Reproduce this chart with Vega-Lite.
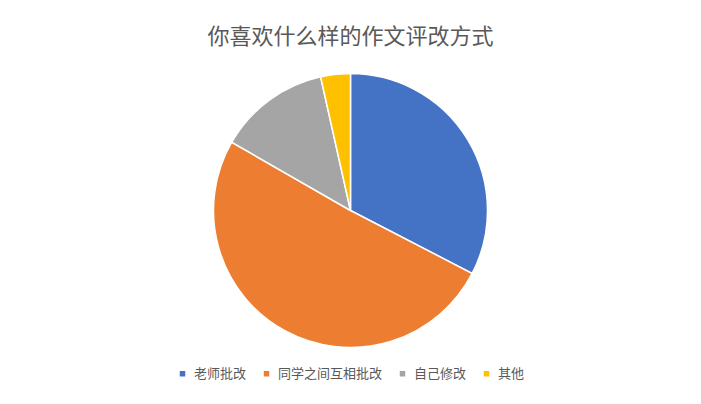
{
  "$schema": "https://vega.github.io/schema/vega-lite/v6.json",
  "width": 701,
  "height": 404,
  "autosize": {"type": "fit", "contains": "padding"},
  "padding": {"top": 27, "bottom": 23, "left": 5, "right": 5},
  "background": "white",
  "title": {
    "text": "你喜欢什么样的作文评改方式",
    "font": "Noto Sans CJK SC",
    "fontSize": 22,
    "fontWeight": "normal",
    "color": "#595959",
    "anchor": "middle",
    "offset": 22
  },
  "data": {
    "values": [
      {"方式": "老师批改", "比例": 32.6, "顺序": 1},
      {"方式": "同学之间互相批改", "比例": 50.7, "顺序": 2},
      {"方式": "自己修改", "比例": 13.2, "顺序": 3},
      {"方式": "其他", "比例": 3.5, "顺序": 4}
    ]
  },
  "mark": {"type": "arc", "radius": 137, "stroke": "white", "strokeWidth": 1.5},
  "encoding": {
    "theta": {"field": "比例", "type": "quantitative", "stack": true},
    "order": {"field": "顺序", "type": "quantitative"},
    "color": {
      "field": "方式",
      "type": "nominal",
      "sort": ["老师批改", "同学之间互相批改", "自己修改", "其他"],
      "scale": {
        "domain": ["老师批改", "同学之间互相批改", "自己修改", "其他"],
        "range": ["#4472c4", "#ed7d31", "#a5a5a5", "#ffc000"]
      },
      "legend": {
        "title": null,
        "orient": "bottom",
        "direction": "horizontal",
        "symbolType": "square",
        "symbolSize": 30,
        "symbolStrokeWidth": 0,
        "labelFont": "Noto Sans CJK SC",
        "labelFontSize": 13,
        "labelColor": "#595959",
        "columnPadding": 13,
        "labelOffset": 5
      }
    }
  },
  "config": {
    "view": {"stroke": null},
    "legend": {"layout": {"bottom": {"anchor": "middle"}}}
  }
}
